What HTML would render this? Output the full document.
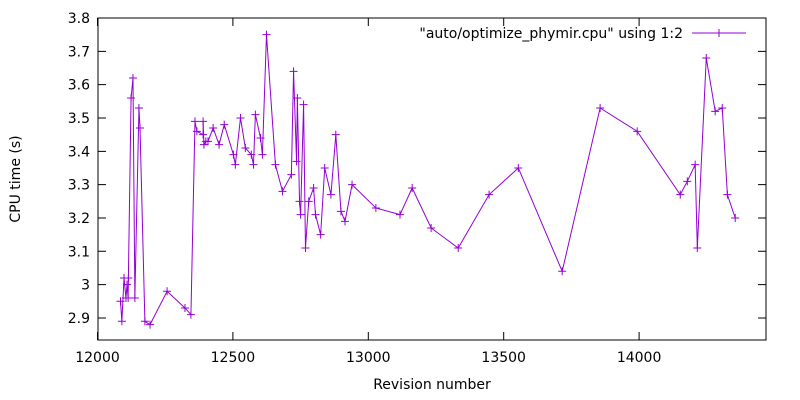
<!DOCTYPE html>
<html><head><meta charset="utf-8"><style>body{margin:0;background:#fff}svg{display:block;font-family:"DejaVu Sans","Liberation Sans",sans-serif;font-size:14px}</style></head>
<body>
<svg id="chart" width="800" height="400" viewBox="0 0 800 400">
<rect x="98" y="18" width="668" height="322" fill="none" stroke="#000" stroke-width="1"/>
<g id="ticks"></g>
<text transform="translate(20,179) rotate(-90)" text-anchor="middle">CPU time (s)</text>
<text x="432" y="389" text-anchor="middle">Revision number</text>
<g>
<text x="683" y="38" text-anchor="end">"auto/optimize_phymir.cpu" using 1:2</text>
<line x1="692" y1="33" x2="746" y2="33" stroke="#9400d3" stroke-width="1"/>
<path d="M715 33h8M719 29v8" stroke="#9400d3"/>
</g>
<g id="series"></g>
</svg>
<script>
const revisions=[12085,12090,12098,12105,12109,12113,12114,12124,12131,12138,12153,12157,12175,12194,12257,12323,12345,12360,12367,12390,12390,12393,12400,12408,12427,12449,12468,12502,12509,12528,12546,12568,12576,12583,12602,12609,12624,12657,12683,12716,12724,12735,12738,12746,12750,12761,12768,12780,12798,12805,12824,12839,12862,12880,12899,12914,12940,13028,13117,13162,13232,13332,13446,13554,13716,13856,13993,14152,14178,14207,14215,14248,14281,14307,14326,14355];
const cpuTimes=[2.95,2.89,3.02,2.96,3.0,2.96,3.02,3.56,3.62,2.96,3.53,3.47,2.89,2.88,2.98,2.93,2.91,3.49,3.46,3.45,3.49,3.42,3.43,3.43,3.47,3.42,3.48,3.39,3.36,3.50,3.41,3.39,3.36,3.51,3.44,3.39,3.75,3.36,3.28,3.33,3.64,3.37,3.56,3.25,3.21,3.54,3.11,3.25,3.29,3.21,3.15,3.35,3.27,3.45,3.22,3.19,3.30,3.23,3.21,3.29,3.17,3.11,3.27,3.35,3.04,3.53,3.46,3.27,3.31,3.36,3.11,3.68,3.52,3.53,3.27,3.20];
const xTicks=[12000,12500,13000,13500,14000];
const yTicks=[2.9,3,3.1,3.2,3.3,3.4,3.5,3.6,3.7,3.8];
const yTickLabels=["2.9","3","3.1","3.2","3.3","3.4","3.5","3.6","3.7","3.8"];
const NS="http://www.w3.org/2000/svg";
const xs=v=>97.5+(v-12000)*0.2708;
const ys=v=>18+(3.8-v)*333.3;
const tg=document.getElementById('ticks');
function mk(tag,attrs,parent){const e=document.createElementNS(NS,tag);for(const k in attrs)e.setAttribute(k,attrs[k]);parent.appendChild(e);return e;}
xTicks.forEach(t=>{const x=xs(t);
 const l=mk('path',{d:`M${x} 340v-8M${x} 18v8`,stroke:'#000'},tg);
 
 
 const tx=mk('text',{x:x,y:362,'text-anchor':'middle'},tg);tx.textContent=t;
 
 });
yTicks.forEach((t,i)=>{const y=ys(t);
 const l=mk('path',{d:`M98 ${y}h8M766 ${y}h-8`,stroke:'#000'},tg);
 
 
 const tx=mk('text',{x:90,y:y+5,'text-anchor':'end'},tg);tx.textContent=yTickLabels[i];
 
 });
const sg=document.getElementById('series');
const pts=revisions.map((r,i)=>[xs(r),ys(cpuTimes[i])]);
const line=mk('polyline',{points:pts.map(p=>p.join(',')).join(' '),fill:'none',stroke:'#9400d3','stroke-width':1},sg);


pts.forEach(p=>{const m=mk('path',{d:`M${p[0]-4} ${p[1]}h8M${p[0]} ${p[1]-4}v8`,stroke:'#9400d3'},sg);
 
 });
</script>
</body></html>
